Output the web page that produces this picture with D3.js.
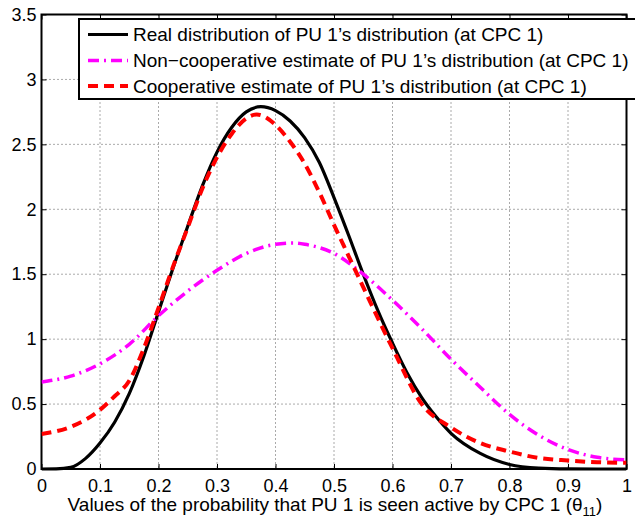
<!DOCTYPE html>
<html><head><meta charset="utf-8">
<script src="https://cdn.jsdelivr.net/npm/d3@7"></script>
<style>
html,body{margin:0;padding:0;background:#fff;}
svg{display:block;font-family:"Liberation Sans",Arial,Helvetica,sans-serif;}
</style></head>
<body>
<svg id="chart" width="635" height="519"></svg>
<script>
const xTicks = [0,0.1,0.2,0.3,0.4,0.5,0.6,0.7,0.8,0.9,1];
const xTickLabels = ["0","0.1","0.2","0.3","0.4","0.5","0.6","0.7","0.8","0.9","1"];
const yTicks = [0,0.5,1,1.5,2,2.5,3,3.5];
const yTickLabels = ["0","0.5","1","1.5","2","2.5","3","3.5"];

const realX = [0,0.025,0.05,0.075,0.1,0.125,0.15,0.175,0.2,0.225,0.25,0.275,0.3,0.325,0.35,0.375,0.4,0.425,0.45,0.475,0.5,0.525,0.55,0.575,0.6,0.625,0.65,0.675,0.7,0.75,0.8,0.85,0.9,0.95,1];
const realY = [0,0.001,0.012,0.08,0.2,0.36,0.58,0.87,1.21,1.55,1.87,2.18,2.44,2.63,2.75,2.79,2.76,2.68,2.55,2.36,2.09,1.80,1.50,1.22,0.97,0.74,0.55,0.40,0.275,0.12,0.035,0.007,0.001,0,0];

const nonCoopX = [0,0.05,0.1,0.15,0.2,0.25,0.3,0.35,0.4,0.43,0.45,0.5,0.55,0.6,0.65,0.7,0.75,0.8,0.85,0.9,0.95,1];
const nonCoopY = [0.67,0.715,0.81,0.96,1.18,1.37,1.53,1.66,1.73,1.74,1.73,1.66,1.50,1.30,1.08,0.845,0.63,0.42,0.26,0.15,0.09,0.07];

const coopX = [0,0.05,0.1,0.125,0.15,0.175,0.2,0.225,0.25,0.275,0.3,0.325,0.35,0.368,0.4,0.425,0.45,0.475,0.5,0.525,0.55,0.6,0.65,0.7,0.75,0.8,0.85,0.9,0.95,1];
const coopY = [0.27,0.325,0.455,0.56,0.68,0.93,1.24,1.56,1.86,2.16,2.40,2.58,2.70,2.73,2.65,2.52,2.35,2.13,1.88,1.64,1.40,0.93,0.50,0.32,0.20,0.135,0.085,0.065,0.052,0.048];

const seriesNames = ["Real distribution of PU 1\u2019s distribution (at CPC 1)",
                     "Non\u2212cooperative estimate of PU 1\u2019s distribution (at CPC 1)",
                     "Cooperative estimate of PU 1\u2019s distribution (at CPC 1)"];

const svg = d3.select("#chart");
const L = 41.5, R = 626.5, T = 14.5, B = 469;
const x = d3.scaleLinear().domain([0,1]).range([L,R]);
const y = d3.scaleLinear().domain([0,3.5]).range([B,T]);

// grid
const g = svg.append("g");
g.selectAll(".gx").data(xTicks.slice(1,-1)).enter().append("line")
  .attr("x1",d=>x(d)).attr("x2",d=>x(d)).attr("y1",T).attr("y2",B)
  .attr("stroke","#555").attr("stroke-width",1).attr("stroke-dasharray","1,3");
g.selectAll(".gy").data(yTicks.slice(1,-1)).enter().append("line")
  .attr("y1",d=>y(d)).attr("y2",d=>y(d)).attr("x1",L).attr("x2",R)
  .attr("stroke","#555").attr("stroke-width",1).attr("stroke-dasharray","1,3");

// axes
const xAxis = d3.axisBottom(x).tickValues(xTicks).tickFormat((d,i)=>xTickLabels[i]).tickSizeInner(-5).tickSizeOuter(0).tickPadding(10);
const yAxis = d3.axisLeft(y).tickValues(yTicks).tickFormat((d,i)=>yTickLabels[i]).tickSizeInner(-5).tickSizeOuter(0).tickPadding(5);
const xTop = d3.axisTop(x).tickValues(xTicks).tickFormat("").tickSizeInner(-5).tickSizeOuter(0);
const yRight = d3.axisRight(y).tickValues(yTicks).tickFormat("").tickSizeInner(-5).tickSizeOuter(0);

function styleAxis(sel){
  sel.select(".domain").remove();
  sel.selectAll("line").attr("stroke","#000").attr("stroke-width",1);
  sel.selectAll("text").attr("fill","#000").style("font-size","18px").style("font-family","'Liberation Sans',Arial,sans-serif");
}
svg.append("g").attr("transform",`translate(0,${B})`).call(xAxis).call(styleAxis);
svg.append("g").attr("transform",`translate(${L},0)`).call(yAxis).call(styleAxis);
svg.append("g").attr("transform",`translate(0,${T})`).call(xTop).call(styleAxis);
svg.append("g").attr("transform",`translate(${R},0)`).call(yRight).call(styleAxis);

svg.append("rect").attr("x",L).attr("y",T).attr("width",R-L).attr("height",B-T)
  .attr("fill","none").attr("stroke","#000").attr("stroke-width",2);

// lines
const line = d3.line().x(d=>x(d[0])).y(d=>y(d[1])).curve(d3.curveMonotoneX);
const zip = (a,b)=>a.map((v,i)=>[v,b[i]]);
svg.append("clipPath").attr("id","clp").append("rect").attr("x",L).attr("y",T).attr("width",R-L).attr("height",B-T+2);
const plot = svg.append("g").attr("clip-path","url(#clp)");
const styles = [
  {c:"#000000", w:3.2, dash:null},
  {c:"#ff00ff", w:3.5, dash:"11,5,2,5"},
  {c:"#ff0000", w:4, dash:"10,6"}
];
const data = [zip(realX,realY), zip(nonCoopX,nonCoopY), zip(coopX,coopY)];
data.forEach((d,i)=>{
  plot.append("path").datum(d).attr("d",line).attr("fill","none")
    .attr("stroke",styles[i].c).attr("stroke-width",styles[i].w)
    .attr("stroke-dasharray",styles[i].dash);
});

// legend
const lg = svg.append("g");
lg.append("rect").attr("x",79).attr("y",19).attr("width",600).attr("height",80)
  .attr("fill","#fff").attr("stroke","#000").attr("stroke-width",2);
const rows = [34.5,60.5,86];
seriesNames.forEach((n,i)=>{
  lg.append("line").attr("x1",88).attr("x2",128).attr("y1",rows[i]).attr("y2",rows[i])
    .attr("stroke",styles[i].c).attr("stroke-width",styles[i].w).attr("stroke-dasharray",styles[i].dash);
  lg.append("text").attr("x",133).attr("y",rows[i]).attr("dy","0.36em")
    .style("font-size","19px").text(n);
});

// x label
const xl = svg.append("text").attr("x",335).attr("y",511).attr("text-anchor","middle").style("font-size","19px");
xl.append("tspan").text("Values of the probability that PU 1 is seen active by CPC 1 (\u03B8");
xl.append("tspan").attr("dy",5).style("font-size","13px").text("11");
xl.append("tspan").attr("dy",-5).text(")");
</script>
</body></html>
